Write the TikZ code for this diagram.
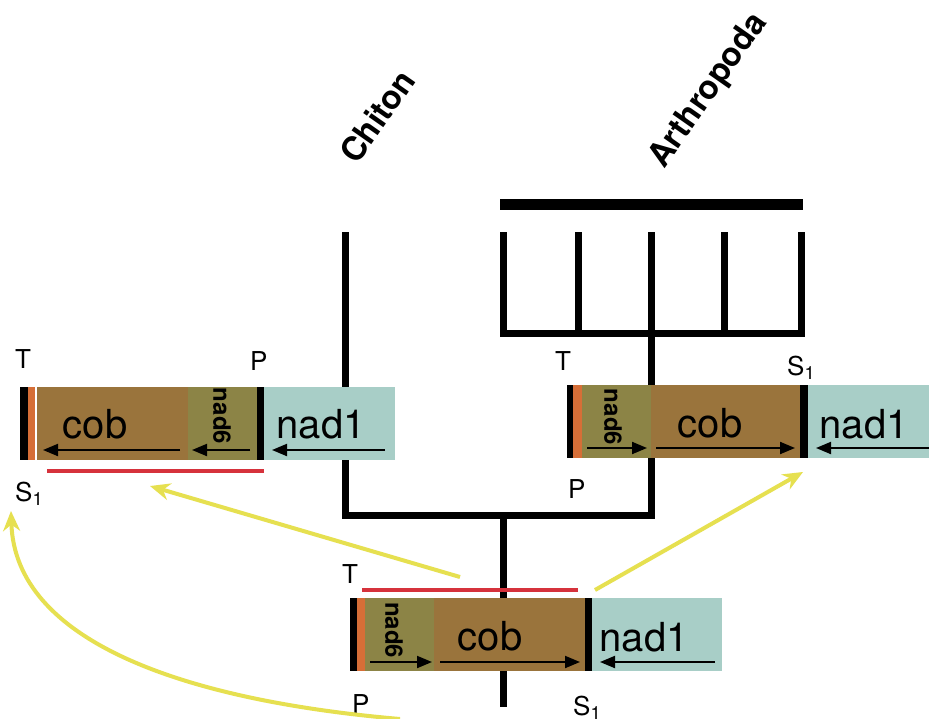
\documentclass[tikz,border=0pt]{standalone}
\usepackage{fontspec}
\setmainfont{TeX Gyre Heros}
\usetikzlibrary{arrows.meta}

\definecolor{cobbrown}{RGB}{154,116,60}
\definecolor{nadolive}{RGB}{140,132,70}
\definecolor{nadblue}{RGB}{168,206,199}
\definecolor{endorange}{RGB}{214,110,55}
\definecolor{markred}{RGB}{214,50,60}
\definecolor{moveyellow}{RGB}{230,224,80}

\tikzset{
  tree/.style={line width=7pt},
  gene/.style={font=\fontsize{40}{40}\selectfont, inner sep=0, anchor=base},
  genesmall/.style={font=\fontsize{24}{24}\selectfont\bfseries, inner sep=0, rotate=-90},
  site/.style={font=\fontsize{26}{26}\selectfont, inner sep=0, anchor=base west},
  taxon/.style={font=\fontsize{33}{33}\selectfont\bfseries, inner sep=0, rotate=55, anchor=base west},
  dir/.style={line width=2pt, -{Triangle[length=15pt,width=12pt]}},
  move/.style={moveyellow, line width=4pt, -{Stealth[length=20pt,width=17pt]}},
  cut/.style={markred, line width=3.5pt}
}

\begin{document}
\begin{tikzpicture}[x=1pt,y=-1pt]
    % Background
    \fill[white] (0,0) rectangle (929,718);
    \useasboundingbox (0,0) rectangle (929,718);

    % Taxa
    \node[taxon] (chiton) at (357,166) {Chiton};
    \node[taxon] (arthro) at (664,170) {Arthropoda};

    % Tree
    \draw[line width=11pt] (500,204) -- (803,204);
    \draw[tree] (345,232) -- (345,515) -- (651,515) -- (651,232);
    \draw[tree] (503,232) -- (503,333) -- (801,333) -- (801,232);
    \foreach \x in {578,724} {
        \draw[tree] (\x,232) -- (\x,333);
    }
    \draw[tree] (503,515) -- (503,707);

    % Chiton order
    \fill[black] (20,387) rectangle (28,460);
    \fill[endorange] (28,387) rectangle (35,460);
    \fill[cobbrown] (37,387) rectangle (188,460);
    \fill[nadolive] (188,387) rectangle (257,460);
    \fill[black] (257,387) rectangle (264,460);
    \fill[nadblue] (264,387) rectangle (395,460);
    \node[gene] (cobL) at (95,438) {cob};
    \node[genesmall] (nad6L) at (222,416) {nad6};
    \node[gene] (nad1L) at (321,438) {nad1};
    \draw[dir] (180,450) -- (43,450);
    \draw[dir] (250,450) -- (192,450);
    \draw[dir] (385,450) -- (272,450);
    \node[site] (tL) at (15,368) {T};
    \node[site] (pL) at (250,370) {P};
    \node[site] (sL) at (15,501) {S\textsubscript{1}};
    \draw[cut] (47,471) -- (264,471);

    % Arthropoda order
    \fill[black] (567,385) rectangle (573,458);
    \fill[endorange] (573,385) rectangle (582,458);
    \fill[nadolive] (582,385) rectangle (651,458);
    \fill[cobbrown] (651,385) rectangle (800,458);
    \fill[black] (800,385) rectangle (808,458);
    \fill[nadblue] (808,385) rectangle (929,458);
    \node[gene] (cobR) at (710,437) {cob};
    \node[genesmall] (nad6R) at (613,417) {nad6};
    \node[gene] (nad1R) at (864,438) {nad1};
    \draw[dir] (587,448) -- (647,448);
    \draw[dir] (656,448) -- (795,448);
    \draw[dir] (929,448) -- (816,448);
    \node[site] (tR) at (555,370) {T};
    \node[site] (sR) at (787,375) {S\textsubscript{1}};
    \node[site] (pR) at (568,498) {P};

    % Ancestral order
    \fill[black] (350,598) rectangle (357,671);
    \fill[endorange] (357,598) rectangle (365,671);
    \fill[nadolive] (365,598) rectangle (434,671);
    \fill[cobbrown] (434,598) rectangle (585,671);
    \fill[black] (585,598) rectangle (592,671);
    \fill[nadblue] (592,598) rectangle (722,671);
    \node[gene] (cobA) at (490,650) {cob};
    \node[genesmall] (nad6A) at (394,630) {nad6};
    \node[gene] (nad1A) at (644,651) {nad1};
    \draw[dir] (370,662) -- (432,662);
    \draw[dir] (440,662) -- (580,662);
    \draw[dir] (715,662) -- (600,662);
    \node[site] (tA) at (342,583) {T};
    \node[site] (pA) at (352,713) {P};
    \node[site] (sA) at (573,715) {S\textsubscript{1}};
    \draw[cut] (362,590) -- (578,590);

    % Rearrangements
    \coordinate (fromL) at (460,577);
    \coordinate (toL) at (150,486);
    \coordinate (fromR) at (595,590);
    \coordinate (toR) at (803,472);
    \coordinate (fromS) at (400,719);
    \coordinate (toS) at (11,511);
    \draw[move] (fromL) -- (toL);
    \draw[move] (fromR) -- (toR);
    \draw[move] (fromS) .. controls (180,700) and (15,640) .. (toS);
\end{tikzpicture}
\end{document}
